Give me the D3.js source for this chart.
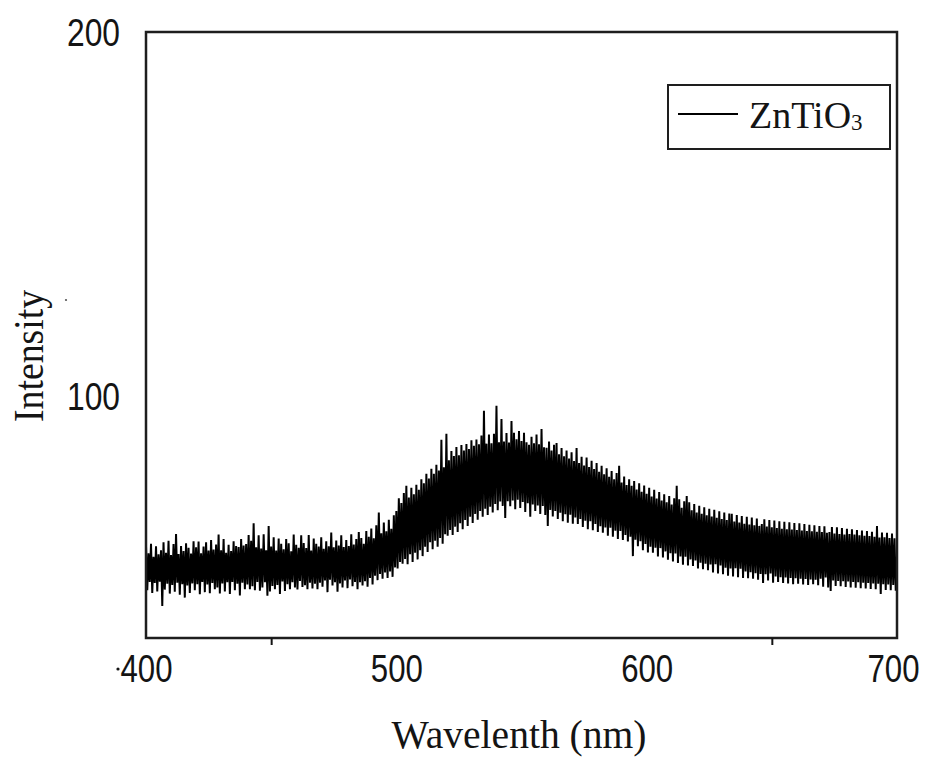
<!DOCTYPE html>
<html>
<head>
<meta charset="utf-8">
<script src="https://cdn.jsdelivr.net/npm/d3@7"></script>
<style>
  html, body { margin: 0; padding: 0; background: #fff; }
  svg { display: block; }
</style>
</head>
<body>
<svg id="chart" width="930" height="762"></svg>
<script>
// ---- data ----
const seriesName = "ZnTiO";
const seriesSub = "3";
const xTickValues = [400, 500, 600, 700];
const xMinorTicks = [450, 650];
const yTickValues = [100, 200];
const xTitle = "Wavelenth (nm)";
const yTitle = "Intensity";
const wavelengthStart = 400;   // nm
const wavelengthEnd = 700;     // nm, samples every 0.5 nm
const intensity = [
  // 400-409.5
  58.9, 46.6, 56.8, 48.9, 59.4, 45.9, 55.8, 48.6, 58.7, 46.3, 56.5, 49.0, 57.6, 42.3, 59.8, 46.8, 56.9, 48.4, 60.2, 45.7,
  // 410
  56.3, 48.1, 59.3, 46.2, 62.1, 48.7, 56.6, 45.4, 58.8, 48.3, 57.4, 44.6, 59.5, 47.9, 58.3, 45.9, 56.7, 48.5, 60.1, 46.6,
  // 420
  58.4, 48.3, 60.0, 45.5, 56.8, 48.9, 58.6, 46.1, 59.8, 48.2, 57.5, 45.8, 60.4, 48.6, 57.8, 46.9, 59.2, 47.4, 61.9, 45.7,
  // 430
  57.6, 48.5, 60.7, 46.3, 56.9, 48.8, 59.1, 45.6, 57.4, 48.9, 60.1, 46.6, 58.8, 48.4, 58.5, 45.2, 60.7, 48.7, 58.9, 46.9,
  // 440
  59.3, 48.2, 61.8, 46.9, 60.2, 47.7, 65.0, 46.6, 58.4, 48.9, 61.7, 46.5, 58.1, 47.4, 62.0, 48.8, 57.6, 45.1, 64.3, 46.3,
  // 450
  58.6, 47.8, 61.2, 46.9, 57.5, 48.1, 60.8, 45.6, 59.4, 49.0, 57.9, 46.4, 60.7, 48.3, 59.5, 46.9, 57.3, 48.8, 61.9, 47.4,
  // 460
  59.1, 46.8, 58.3, 49.2, 61.7, 47.5, 59.6, 48.0, 58.2, 46.9, 61.8, 48.7, 57.5, 47.1, 60.8, 48.4, 59.4, 46.9, 58.6, 48.7,
  // 470
  61.2, 47.6, 58.0, 49.3, 60.1, 46.1, 58.7, 49.5, 62.5, 47.9, 58.4, 48.8, 60.3, 46.2, 58.9, 48.5, 61.7, 47.4, 58.5, 49.3,
  // 480
  60.4, 47.2, 58.8, 49.6, 62.0, 47.7, 59.2, 48.9, 60.7, 46.9, 62.6, 48.8, 61.0, 47.9, 59.4, 49.1, 62.9, 47.6, 61.3, 50.0,
  // 490
  63.6, 48.2, 60.9, 50.6, 64.5, 49.4, 68.0, 51.1, 62.3, 49.8, 65.2, 51.5, 62.8, 50.0, 66.0, 51.8, 63.5, 50.3, 67.2, 52.9,
  // 500
  68.4, 52.6, 71.9, 54.4, 70.6, 53.9, 73.3, 55.2, 75.3, 53.8, 72.1, 56.5, 74.8, 54.4, 73.0, 56.9, 75.6, 55.1, 74.2, 57.6,
  // 510
  77.1, 56.0, 76.0, 58.6, 78.6, 57.1, 77.3, 59.8, 80.0, 57.9, 78.6, 60.2, 81.1, 58.6, 79.5, 61.0, 88.0, 59.4, 80.4, 62.0,
  // 520
  89.6, 61.6, 82.3, 63.2, 84.9, 61.8, 83.5, 64.1, 86.0, 62.6, 83.7, 65.0, 86.5, 63.4, 85.0, 65.9, 86.8, 64.3, 85.4, 66.8,
  // 530
  87.8, 65.1, 86.3, 67.6, 88.0, 66.0, 86.7, 68.4, 89.1, 66.8, 95.9, 69.0, 86.9, 67.3, 89.4, 69.6, 87.0, 68.0, 89.6, 70.3,
  // 540
  97.3, 68.6, 87.3, 71.0, 93.7, 69.8, 87.5, 66.5, 89.8, 71.1, 87.2, 69.7, 93.1, 71.3, 89.9, 68.9, 88.1, 71.5, 90.4, 69.2,
  // 550
  87.6, 70.9, 89.9, 68.1, 87.3, 70.5, 86.6, 66.8, 88.8, 70.2, 87.0, 68.4, 89.4, 69.9, 86.7, 67.6, 90.9, 69.8, 85.9, 67.3,
  // 560
  85.8, 64.3, 87.5, 68.7, 85.0, 66.9, 86.6, 68.4, 87.1, 66.2, 84.0, 67.9, 85.7, 65.6, 83.4, 67.5, 85.0, 65.2, 82.8, 67.4,
  // 570
  84.5, 64.9, 82.1, 66.6, 85.7, 64.8, 81.6, 66.2, 83.3, 64.0, 80.9, 65.7, 83.1, 63.4, 80.5, 65.6, 82.2, 63.1, 79.9, 64.8,
  // 580
  81.6, 62.6, 79.2, 64.2, 80.8, 62.4, 78.5, 63.9, 80.1, 61.6, 77.8, 63.8, 79.4, 61.3, 77.1, 63.0, 78.8, 60.7, 80.8, 62.9,
  // 590
  76.2, 60.4, 77.9, 61.8, 75.5, 60.0, 77.1, 61.3, 75.3, 56.0, 76.6, 60.5, 74.3, 58.7, 76.0, 60.1, 73.7, 57.6, 75.4, 59.3,
  // 600
  73.1, 57.0, 74.8, 58.6, 72.4, 56.9, 74.2, 58.3, 71.8, 55.9, 73.6, 58.2, 71.3, 55.6, 73.0, 57.3, 70.8, 55.0, 72.5, 56.8,
  // 610
  70.2, 54.5, 71.9, 56.7, 75.3, 54.1, 71.6, 55.9, 69.3, 53.6, 71.1, 55.8, 72.5, 53.4, 70.8, 55.1, 68.6, 53.3, 70.3, 54.8,
  // 620
  68.0, 52.6, 69.8, 54.2, 67.6, 52.4, 69.4, 53.9, 67.2, 52.1, 69.0, 53.7, 66.9, 51.5, 68.7, 53.8, 66.5, 51.2, 68.3, 53.4,
  // 630
  66.2, 51.0, 68.0, 52.8, 65.9, 50.6, 67.7, 52.6, 67.6, 50.4, 65.5, 52.7, 67.3, 50.2, 65.2, 52.5, 67.0, 50.0, 64.9, 51.8,
  // 640
  66.8, 49.9, 64.7, 51.6, 66.6, 49.8, 64.5, 51.3, 66.3, 49.5, 64.3, 51.1, 64.8, 48.6, 66.1, 51.0, 64.1, 49.3, 65.9, 51.2,
  // 650
  63.9, 48.7, 65.8, 50.4, 63.7, 48.9, 65.6, 50.2, 63.5, 48.6, 65.4, 50.1, 63.4, 48.5, 65.3, 50.0, 63.3, 48.3, 65.1, 49.9,
  // 660
  63.2, 48.4, 65.0, 49.8, 63.0, 48.2, 64.8, 49.7, 62.9, 48.1, 64.6, 49.6, 62.8, 48.3, 64.5, 49.5, 62.7, 48.0, 64.3, 49.8,
  // 670
  62.6, 47.6, 64.2, 50.1, 62.4, 47.4, 62.6, 46.4, 64.0, 49.3, 62.2, 47.8, 63.9, 49.2, 62.1, 47.7, 63.7, 49.1, 61.9, 47.5,
  // 680
  63.5, 49.0, 62.1, 47.4, 63.4, 48.9, 61.9, 47.3, 63.2, 48.8, 61.7, 47.2, 63.0, 48.7, 61.6, 47.1, 62.9, 48.6, 61.5, 47.0,
  // 690
  62.7, 48.5, 61.3, 46.9, 64.3, 48.4, 61.1, 45.6, 62.5, 48.3, 61.2, 46.7, 62.4, 48.2, 61.0, 46.6, 62.2, 48.1, 60.9, 46.5,
  // 700
  56.0
];

// ---- layout ----
const svg = d3.select("#chart");
const plotL = 146, plotR = 897, plotT = 32, plotB = 638;
const ink = "#141414";

const x = d3.scaleLinear().domain([400, 700]).range([plotL, plotR]);
const y = d3.scaleLinear().domain([33.5, 200]).range([plotB, plotT]);

const step = (wavelengthEnd - wavelengthStart) / (intensity.length - 1);
const data = intensity.map((v, i) => ({ w: wavelengthStart + i * step, v }));

// data line (clipped to plot)
svg.append("clipPath").attr("id", "clip")
  .append("rect").attr("x", plotL).attr("y", plotT)
  .attr("width", plotR - plotL).attr("height", plotB - plotT);

svg.append("path")
  .datum(data)
  .attr("clip-path", "url(#clip)")
  .attr("fill", "none")
  .attr("stroke", "#000")
  .attr("stroke-width", 2)
  .attr("stroke-linejoin", "bevel")
  .attr("d", d3.line().x(d => x(d.w)).y(d => y(d.v)));

// frame
svg.append("rect")
  .attr("x", plotL).attr("y", plotT)
  .attr("width", plotR - plotL).attr("height", plotB - plotT)
  .attr("fill", "none").attr("stroke", "#1e1e1e").attr("stroke-width", 2.5);

// x axis labels
const xAxis = svg.append("g").attr("transform", `translate(0,${plotB})`)
  .call(d3.axisBottom(x).tickValues(xTickValues).tickSize(0).tickFormat(d3.format("d")));
xAxis.select(".domain").remove();
xAxis.selectAll("text")
  .attr("y", 44).attr("dy", 0)
  .attr("dx", (d, i, n) => i === n.length - 1 ? -4 : 0)
  .attr("fill", ink)
  .style("font-family", "'Liberation Sans', Arial, sans-serif")
  .style("font-size", "38px")
  .attr("textLength", 52).attr("lengthAdjust", "spacingAndGlyphs");

// minor ticks on x axis (outward)
const xMinor = svg.append("g").attr("transform", `translate(0,${plotB})`)
  .call(d3.axisBottom(x).tickValues(xMinorTicks).tickSize(7).tickFormat(""));
xMinor.select(".domain").remove();
xMinor.selectAll("line").attr("stroke", ink).attr("stroke-width", 2);

// y axis labels
const yAxis = svg.append("g").attr("transform", `translate(${plotL},0)`)
  .call(d3.axisLeft(y).tickValues(yTickValues).tickSize(0).tickFormat(d3.format("d")));
yAxis.select(".domain").remove();
yAxis.selectAll("text")
  .attr("x", -26).attr("dy", 0).attr("y", 13.5)
  .attr("fill", ink)
  .style("font-family", "'Liberation Sans', Arial, sans-serif")
  .style("font-size", "38px")
  .attr("textLength", 53).attr("lengthAdjust", "spacingAndGlyphs");

// small stray dots present in the reference
svg.append("circle").attr("cx", 118).attr("cy", 669).attr("r", 1.6).attr("fill", ink);
svg.append("circle").attr("cx", 66).attr("cy", 300).attr("r", 1.1).attr("fill", "#555");

// axis titles
svg.append("text")
  .attr("x", 519).attr("y", 748)
  .attr("text-anchor", "middle")
  .attr("fill", ink)
  .style("font-family", "'Liberation Serif', 'Times New Roman', serif")
  .style("font-size", "39px")
  .attr("textLength", 255).attr("lengthAdjust", "spacingAndGlyphs")
  .text(xTitle);

svg.append("text")
  .attr("transform", "translate(43,356) rotate(-90)")
  .attr("text-anchor", "middle")
  .attr("fill", ink)
  .style("font-family", "'Liberation Serif', 'Times New Roman', serif")
  .style("font-size", "42px")
  .attr("textLength", 132).attr("lengthAdjust", "spacingAndGlyphs")
  .text(yTitle);

// legend
const lg = svg.append("g");
lg.append("rect").attr("x", 668).attr("y", 85).attr("width", 222).attr("height", 64)
  .attr("fill", "#fff").attr("stroke", "#1e1e1e").attr("stroke-width", 2);
lg.append("line").attr("x1", 678).attr("x2", 738).attr("y1", 114).attr("y2", 114)
  .attr("stroke", "#000").attr("stroke-width", 2);
const lt = lg.append("text").attr("x", 749).attr("y", 128)
  .attr("fill", ink)
  .style("font-family", "'Liberation Serif', 'Times New Roman', serif")
  .style("font-size", "38px");
lt.append("tspan").text(seriesName);
lt.append("tspan").attr("dy", 2).style("font-size", "23px").text(seriesSub);
</script>
</body>
</html>
